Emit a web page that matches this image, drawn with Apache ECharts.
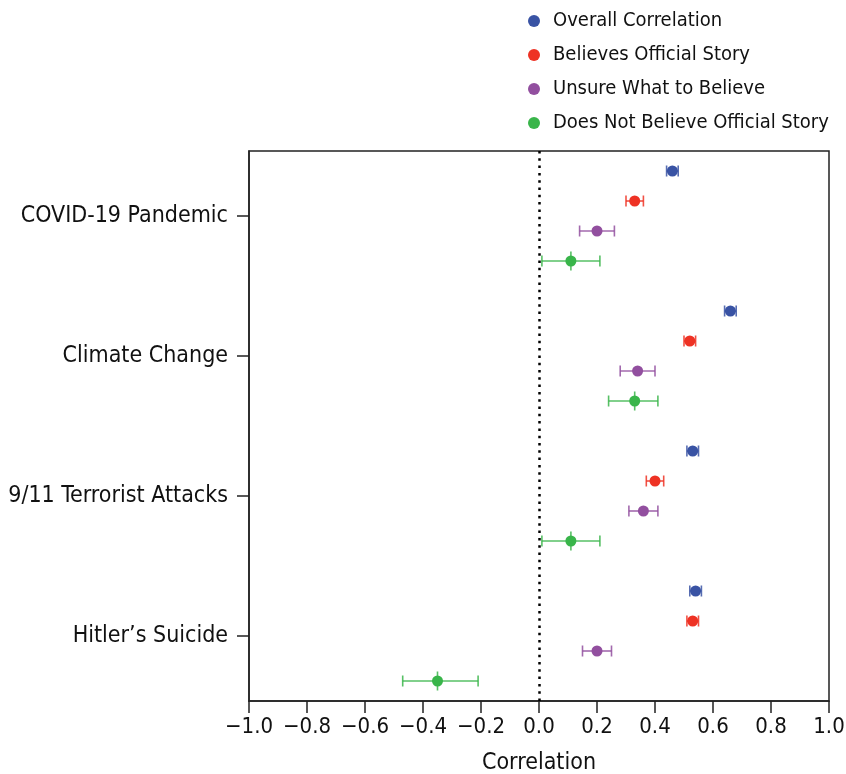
<!DOCTYPE html>
<html>
<head>
<meta charset="utf-8">
<script src="https://cdn.jsdelivr.net/npm/echarts@6/dist/echarts.min.js"></script>
<style>
  html, body { margin: 0; padding: 0; background: #fff; }
  #main { width: 846px; height: 774px; }
</style>
</head>
<body>
<div id="main"></div>
<script>
var categories = ['COVID-19 Pandemic', 'Climate Change', '9/11 Terrorist Attacks', 'Hitler\u2019s Suicide'];
var seriesNames = ['Overall Correlation', 'Believes Official Story', 'Unsure What to Believe', 'Does Not Believe Official Story'];
var colors = ['#3953a4', '#ee3224', '#924f9f', '#39b54a'];

// point estimates and 95% CI bounds, one entry per category
var overall = [0.46, 0.66, 0.53, 0.54];
var overallLow = [0.44, 0.64, 0.51, 0.52];
var overallHigh = [0.48, 0.68, 0.55, 0.56];

var believes = [0.33, 0.52, 0.40, 0.53];
var believesLow = [0.30, 0.50, 0.37, 0.51];
var believesHigh = [0.36, 0.54, 0.43, 0.55];

var unsure = [0.20, 0.34, 0.36, 0.20];
var unsureLow = [0.14, 0.28, 0.31, 0.15];
var unsureHigh = [0.26, 0.40, 0.41, 0.25];

var notBelieve = [0.11, 0.33, 0.11, -0.35];
var notBelieveLow = [0.01, 0.24, 0.01, -0.47];
var notBelieveHigh = [0.21, 0.41, 0.21, -0.21];

var xTicks = [-1.0, -0.8, -0.6, -0.4, -0.2, 0.0, 0.2, 0.4, 0.6, 0.8, 1.0];

var groups = [
    [overall, overallLow, overallHigh],
    [believes, believesLow, believesHigh],
    [unsure, unsureLow, unsureHigh],
    [notBelieve, notBelieveLow, notBelieveHigh]
];

var font = "'Liberation Sans Narrow', 'Arial Narrow', 'DejaVu Sans Condensed', sans-serif";

// rows inside a category are 30px apart, categories 140px apart
function rowPos(catIndex, seriesIndex) {
    return catIndex + (seriesIndex - 1.5) * 30 / 140;
}

function renderBar(params, api) {
    var y = api.value(2);
    var lo = api.coord([api.value(0), y]);
    var hi = api.coord([api.value(1), y]);
    var mid = api.coord([api.value(3), y]);
    var color = api.visual('color');
    var cap = 5.5;
    var style = { stroke: color, lineWidth: 1.6, opacity: 0.85 };
    var children = [
        { type: 'line', shape: { x1: lo[0], y1: lo[1], x2: hi[0], y2: hi[1] }, style: style },
        { type: 'line', shape: { x1: lo[0], y1: lo[1] - cap, x2: lo[0], y2: lo[1] + cap }, style: style },
        { type: 'line', shape: { x1: hi[0], y1: hi[1] - cap, x2: hi[0], y2: hi[1] + cap }, style: style }
    ];
    if (params.seriesIndex === 7) {
        children.push({ type: 'line', shape: { x1: mid[0], y1: mid[1] - 9.5, x2: mid[0], y2: mid[1] + 9.5 }, style: style });
    }
    return { type: 'group', children: children };
}

var series = [];
groups.forEach(function (g, s) {
    var pts = [];
    categories.forEach(function (c, i) {
        pts.push([g[0][i], rowPos(i, s)]);
    });
    series.push({
        name: seriesNames[s],
        type: 'scatter',
        data: pts,
        symbol: 'circle',
        symbolSize: 11,
        itemStyle: { color: colors[s], opacity: 1 },
        z: 5,
        silent: true
    });
});
groups.forEach(function (g, s) {
    var bars = [];
    categories.forEach(function (c, i) {
        bars.push([g[1][i], g[2][i], rowPos(i, s), g[0][i]]);
    });
    series.push({
        name: 'ci' + s,
        type: 'custom',
        data: bars,
        encode: { x: [0, 1], y: 2 },
        renderItem: renderBar,
        itemStyle: { color: colors[s] },
        z: 3,
        silent: true
    });
});

series[0].markLine = {
    silent: true,
    symbol: ['none', 'none'],
    label: { show: false },
    lineStyle: { color: '#000', type: [2.5, 4.8], width: 2.5 },
    data: [{ xAxis: 0 }]
};

var chart = echarts.init(document.getElementById('main'));

var option = {
    animation: false,
    textStyle: { fontFamily: font },
    legend: {
        orient: 'vertical',
        left: 523,
        top: 5,
        data: seriesNames.map(function (n) { return { name: n, icon: 'circle' }; }),
        itemWidth: 20,
        itemHeight: 12,
        itemGap: 12,
        textStyle: { fontFamily: font, fontSize: 20, color: '#111', lineHeight: 22, padding: [0, 0, 0, 4] }
    },
    grid: {
        left: 249,
        right: 17,
        top: 151,
        bottom: 73,
        containLabel: false,
        outerBoundsMode: 'none',
        show: true,
        borderColor: '#222',
        borderWidth: 1.5
    },
    xAxis: {
        type: 'value',
        min: -1,
        max: 1,
        interval: 0.2,
        splitLine: { show: false },
        axisLine: { show: true, onZero: false, lineStyle: { color: '#222', width: 1.5 } },
        axisTick: { show: true, length: 12, lineStyle: { color: '#222', width: 1.5 } },
        axisLabel: {
            margin: 15,
            fontFamily: font,
            fontSize: 22,
            color: '#111',
            formatter: function (v) {
                var t = xTicks.reduce(function (a, b) { return Math.abs(b - v) < Math.abs(a - v) ? b : a; });
                var s = Math.abs(t).toFixed(1);
                return t < -1e-9 ? '\u2212' + s : s;
            }
        },
        name: 'Correlation',
        nameLocation: 'middle',
        nameGap: 51,
        nameTextStyle: { fontFamily: font, fontSize: 23, color: '#111' }
    },
    yAxis: {
        type: 'value',
        inverse: true,
        min: -0.4643,
        max: 3.4643,
        splitLine: { show: false },
        axisLine: { show: true, onZero: false, lineStyle: { color: '#222', width: 1.5 } },
        axisTick: { show: true, length: 12, customValues: [0, 1, 2, 3], lineStyle: { color: '#222', width: 1.5 } },
        axisLabel: {
            margin: 21,
            fontFamily: font,
            fontSize: 23,
            color: '#111',
            customValues: [0, 1, 2, 3],
            formatter: function (v) { return categories[Math.round(v)]; }
        }
    },
    series: series
};

chart.setOption(option);
</script>
</body>
</html>
